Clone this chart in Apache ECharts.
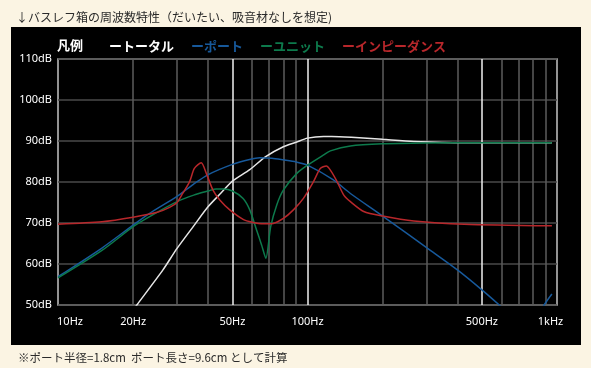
<!DOCTYPE html>
<html>
<head>
<meta charset="utf-8">
<script src="https://cdn.jsdelivr.net/npm/echarts@6/dist/echarts.min.js"></script>
<style>
html,body{margin:0;padding:0;background:#fbf4e3;}
#panel{position:absolute;left:11px;top:27px;width:570px;height:318px;background:#000;}
#chart{position:absolute;left:0;top:0;width:591px;height:368px;}
</style>
</head>
<body>
<div id="panel"></div>
<div id="chart"></div>
<script>
// ---- data (frequency in Hz, level in dB) ----
const titleText = '↓バスレフ箱の周波数特性（だいたい、吸音材なしを想定)';
const noteText = '※ポート半径=1.8cm  ポート長さ=9.6cm として計算';
const legendLabel = '凡例';
const seriesNames = ['トータル', 'ポート', 'ユニット', 'インピーダンス'];
const xTickValues = [10, 20, 50, 100, 500, 1000];
const xMinorLines = [20, 30, 40, 60, 70, 80, 90, 200, 300, 400, 600, 700, 800, 900];
const xMajorLines = [50, 100, 500];

const freqTotal = [10, 15, 20.7, 26.3, 30, 35, 40, 45, 50, 58.7, 68, 80, 90, 100, 116, 125, 150, 200, 267, 425, 954];
const dbTotal   = [24, 38.5, 50, 58.5, 63.8, 69.3, 74, 77.3, 80.2, 83, 86.2, 88.6, 89.7, 90.7, 91.1, 91.1, 90.9, 90.4, 89.9, 89.6, 89.6];

const freqPort = [10, 15, 20, 23.2, 30, 35, 40, 50, 58.6, 64.4, 72, 80, 90, 100, 127, 148.6, 200, 303, 400, 500, 587, 650, 720, 800, 850, 888, 954];
const dbPort   = [56.9, 63.9, 69.5, 72.3, 76.5, 79.5, 81.8, 84.3, 85.5, 85.9, 85.8, 85.4, 84.9, 84.1, 80.5, 77.2, 71.7, 63.8, 58.5, 53.7, 50, 47.5, 45.5, 45.5, 47.5, 50, 52.7];

const freqUnit = [10, 15, 20, 23.2, 30, 35, 40, 43, 46, 50, 55.2, 58.7, 62.5, 65.5, 68.1, 71.2, 75.3, 80, 90.6, 100, 116, 123.5, 148.6, 200, 300, 500, 954];
const dbUnit   = [56.6, 63.3, 69.1, 71.5, 75.2, 76.8, 77.8, 78.3, 78.3, 77.8, 76, 73.2, 68.3, 64.6, 61.4, 69.1, 74.4, 78, 82.1, 84.1, 86.6, 87.6, 88.8, 89.3, 89.5, 89.6, 89.6];

const freqImp = [10, 15, 20, 25, 28, 30, 31.6, 33.7, 35.2, 37.5, 39.3, 41.8, 44.5, 48.8, 55.2, 60, 66.5, 72.9, 80, 87.8, 96.3, 105.7, 112.5, 119, 123.5, 131.4, 139.8, 148.6, 168, 200, 267, 425, 954];
const dbImp   = [69.7, 70.3, 71.4, 72.6, 73.8, 75, 77.2, 80.1, 83.3, 84.7, 82.1, 78, 75.6, 73.2, 70.9, 70.2, 69.8, 69.9, 71.1, 73.2, 76, 80.1, 83.3, 83.9, 82.9, 80.1, 76.8, 75.2, 72.8, 71.7, 70.5, 69.7, 69.3];

const colors = ['#e6e6e6', '#17599b', '#0d7a4c', '#b8272b'];

// ---- chart ----
const zip = (xs, ys) => xs.map((x, i) => [x, ys[i]]);
const seriesData = [zip(freqTotal, dbTotal), zip(freqPort, dbPort), zip(freqUnit, dbUnit), zip(freqImp, dbImp)];
const fontJP = '"Noto Sans CJK JP", "Noto Sans", sans-serif';

const chart = echarts.init(document.getElementById('chart'), null, {renderer: 'canvas'});
const lineSeries = seriesNames.map((n, i) => ({
  name: n, type: 'line', data: seriesData[i], showSymbol: false, smooth: 0.25,
  lineStyle: {color: colors[i], width: 1.5}, itemStyle: {color: colors[i]}, z: 5, clip: true
}));

chart.setOption({
  animation: false,
  backgroundColor: 'transparent',
  title: [
    {text: titleText, left: 11, top: 6, textStyle: {fontSize: 12, fontWeight: 'normal', color: '#2a2a2a', fontFamily: fontJP}},
    {text: legendLabel, left: 52, top: 34, textStyle: {fontSize: 13, fontWeight: 'bold', color: '#ffffff', fontFamily: fontJP}},
    {text: noteText, left: 13, top: 347, textStyle: {fontSize: 11.5, fontWeight: 'normal', color: '#2a2a2a', fontFamily: fontJP}}
  ],
  legend: {
    left: 99, top: 34, icon: 'none', itemWidth: 0, itemGap: 12,
    formatter: 'ー{name}',
    textStyle: {fontSize: 13, fontWeight: 'bold', fontFamily: fontJP},
    data: seriesNames.map((n, i) => ({name: n, textStyle: {color: colors[i] === '#e6e6e6' ? '#ffffff' : colors[i]}}))
  },
  grid: {left: 58, right: 34, top: 59, bottom: 63, show: true, borderColor: '#c4c4c4', borderWidth: 1.5, backgroundColor: 'transparent'},
  xAxis: {
    type: 'log', logBase: 10, min: 10, max: 1000,
    axisLine: {show: false}, axisTick: {show: false}, splitLine: {show: false}, minorSplitLine: {show: false},
    axisLabel: {
      color: '#ffffff', fontSize: 11, fontFamily: 'Noto Sans, sans-serif', margin: 11,
      customValues: xTickValues,
      formatter: v => v === 10 ? '{first|10Hz}' : (v >= 1000 ? '{last|' + (v / 1000) + 'kHz}' : v + 'Hz'),
      rich: {
        first: {color: '#ffffff', fontSize: 11, fontFamily: 'Noto Sans, sans-serif', padding: [0, 0, 0, 24]},
        last: {color: '#ffffff', fontSize: 11, fontFamily: 'Noto Sans, sans-serif', padding: [0, 13, 0, 0]}
      }
    }
  },
  yAxis: {
    type: 'value', min: 50, max: 110, interval: 10,
    axisLine: {show: false}, axisTick: {show: false},
    splitLine: {lineStyle: {color: '#4a4a4a', width: 1.5}},
    axisLabel: {color: '#ffffff', fontSize: 11, fontFamily: 'Noto Sans, sans-serif', margin: 6, formatter: '{value}dB'}
  },
  series: [
    {name: 'grid-minor', type: 'line', data: [], z: 1, silent: true,
     markLine: {silent: true, symbol: ['none', 'none'], label: {show: false},
       lineStyle: {color: '#5c5c5c', width: 1.5, type: 'solid'},
       data: xMinorLines.map(v => ({xAxis: v}))}},
    {name: 'grid-major', type: 'line', data: [], z: 2, silent: true,
     markLine: {silent: true, symbol: ['none', 'none'], label: {show: false},
       lineStyle: {color: '#f0f0f0', width: 1.5, type: 'solid'},
       data: xMajorLines.map(v => ({xAxis: v}))}}
  ].concat(lineSeries)
});
</script>
</body>
</html>
